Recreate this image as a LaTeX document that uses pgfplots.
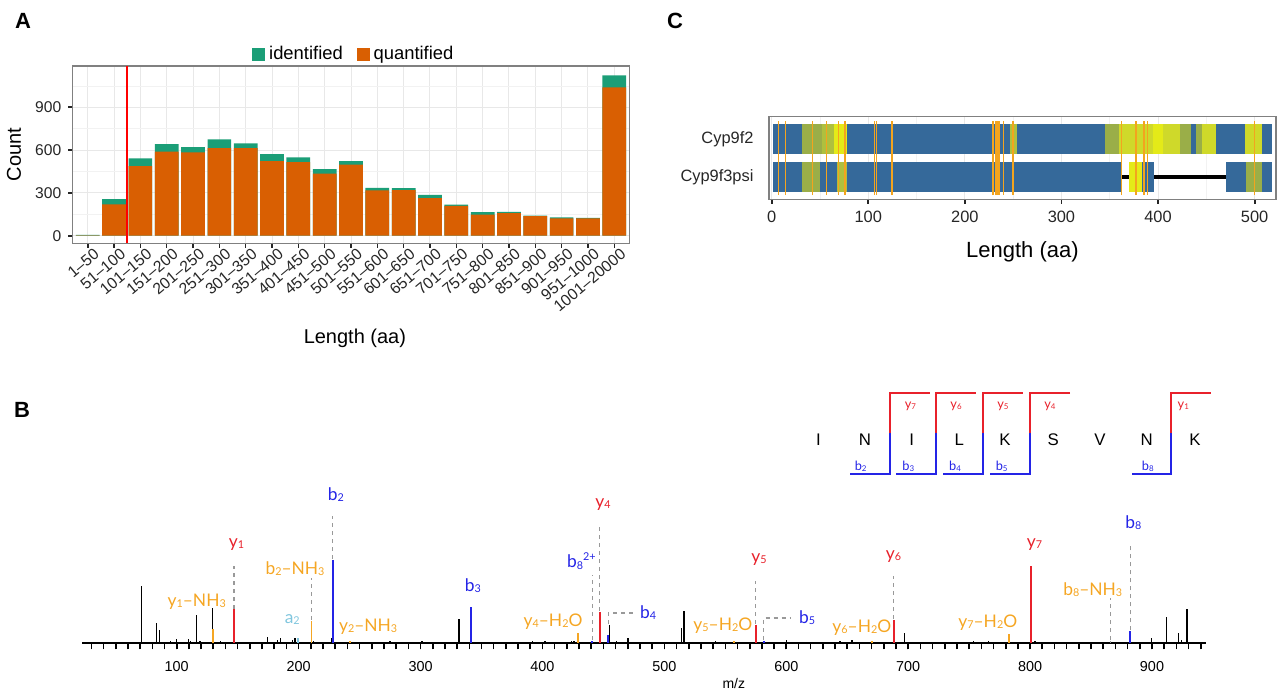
\documentclass[border=0pt]{standalone}
\usepackage{fontspec}
\setmainfont{Liberation Sans}
\newfontfamily\lato{Lato}
\usepackage{pgfplots}
\usepackage{pgfplotstable}
\pgfplotsset{compat=1.18}
\definecolor{qorange}{HTML}{D95F02}
\definecolor{igreen}{HTML}{1B9E77}
\definecolor{cblue}{HTML}{35699A}
\definecolor{colive}{HTML}{9AAE48}
\definecolor{colive2}{HTML}{AFC03E}
\definecolor{cyg}{HTML}{CFD92A}
\definecolor{cyel}{HTML}{E4EA18}
\definecolor{corange}{HTML}{F3A41E}
\definecolor{pred}{HTML}{E8212B}
\definecolor{pblue}{HTML}{2424E6}
\definecolor{porange}{HTML}{F5A623}
\definecolor{plblue}{HTML}{80C6DE}
\newcommand\s[1]{\raisebox{-0.12ex}{\scalebox{0.62}{#1}}}
\newcommand\lbl{\lato\fontsize{8.7}{9}\selectfont}
\newcommand\sq{\lato\fontsize{6.4}{7}\selectfont}
\newcommand\R[5]{\addplot[fill=#5, draw=none, forget plot] coordinates {(#1,#3) (#2,#3) (#2,#4) (#1,#4)} -- cycle;}

\pgfplotstableread{
x q t
0 3 6
1 220 257
2 488 542
3 589 642
4 584 621
5 614 675
6 614 647
7 523 572
8 516 549
9 435 467
10 498 523
11 318 336
12 320 334
13 264 287
14 209 218
15 148 165
16 158 167
17 137 141
18 121 128
19 122 125
20 1039 1123
}\dataA

\begin{document}
\begin{tikzpicture}
\path[use as bounding box] (0,0) rectangle (640pt,345pt);

% Panel letters
\node[font=\bfseries\fontsize{11}{12}\selectfont] at (11.5pt,334.5pt) {A};
\node[font=\bfseries\fontsize{11}{12}\selectfont] at (11pt,140pt) {B};
\node[font=\bfseries\fontsize{11}{12}\selectfont] at (337.5pt,334.5pt) {C};

% ---------------- Panel A ----------------
\begin{axis}[
  at={(36.35pt,223.35pt)}, anchor=south west, scale only axis,
  width=278.3pt, height=88.65pt,
  xmin=-0.57, xmax=20.57, ymin=-53, ymax=1189,
  xtick={0,...,20},
  xticklabels={1–50,51–100,101–150,151–200,201–250,251–300,301–350,351–400,401–450,451–500,501–550,551–600,601–650,651–700,701–750,751–800,801–850,851–900,901–950,951–1000,1001–20000},
  ytick={0,300,600,900}, minor ytick={150,450,750,1050},
  tick pos=left,
  grid=both,
  major grid style={black!9, line width=0.5pt},
  minor grid style={black!5, line width=0.3pt},
  axis line style={black!50, line width=0.7pt},
  tick style={black!85, line width=0.8pt},
  tick align=outside, major tick length=2.2pt, minor tick length=0pt,
  xticklabel style={rotate=40, anchor=north east, inner sep=1pt, xshift=3.2pt, yshift=-0.6pt, font=\fontsize{7.9}{8}\selectfont, text=black!85},
  yticklabel style={font=\fontsize{7.8}{8}\selectfont, text=black!85},
  /pgf/number format/assume math mode=true,
  xlabel={Length (aa)}, ylabel={Count},
  xlabel style={at={(axis description cs:0.507,-0.536)}, anchor=center, font=\fontsize{10}{12}\selectfont},
  ylabel style={at={(axis description cs:-0.1055,0.5)}, anchor=center, rotate=0, font=\fontsize{10}{12}\selectfont},
  legend columns=2,
  legend style={draw=none, fill=none, at={(0.507,1)}, anchor=center, yshift=5.9pt,
    font=\fontsize{9.2}{10}\selectfont, /tikz/every even column/.append style={column sep=5pt}},
  legend image code/.code={\fill[#1] (0pt,-3.2pt) rectangle (6.4pt,3.2pt);},
]
\addplot[ybar, bar width=0.9, fill=igreen, draw=none] table[x=x, y=t] {\dataA};
\addlegendentry{identified}
\addplot[ybar, bar width=0.9, fill=qorange, draw=none] table[x=x, y=q] {\dataA};
\addlegendentry{quantified}
\addplot[red, line width=1pt, forget plot] coordinates {(1.5,-53) (1.5,1189)};
\end{axis}

% ---------------- Panel C ----------------
\begin{axis}[
  at={(384.45pt,245.2pt)}, anchor=south west, scale only axis,
  width=253.5pt, height=41.45pt,
  xmin=-2.8, xmax=522, ymin=-0.6, ymax=1.6,
  xtick={0,100,...,500}, minor xtick={50,150,...,450},
  ytick={0,1}, yticklabels={Cyp9f3psi,Cyp9f2},
  tick pos=left,
  xmajorgrids, xminorgrids,
  major grid style={black!9, line width=0.5pt},
  minor grid style={black!5, line width=0.3pt},
  axis line style={black!50, line width=0.7pt},
  tick style={black!85, line width=0.9pt},
  tick align=outside, major tick length=2.2pt, minor tick length=0pt,
  ytick style={draw=none},
  xticklabel style={font=\fontsize{8.2}{9}\selectfont, text=black!85},
  yticklabel style={font=\fontsize{8.2}{9}\selectfont, text=black!85, xshift=-2pt},
  /pgf/number format/assume math mode=true,
  xlabel={Length (aa)},
  xlabel style={at={(axis description cs:0.5,-0.628)}, anchor=center, font=\fontsize{11}{13}\selectfont},
  unbounded coords=jump,
]
\addplot[black, line width=2pt, forget plot] coordinates {(358,0) (472,0)};
% Cyp9f2
\R{1}{518}{0.6}{1.4}{cblue}
\R{31}{52}{0.6}{1.4}{colive}
\R{52}{65}{0.6}{1.4}{colive2}
\R{65}{78}{0.6}{1.4}{cyel}
\R{247}{254}{0.6}{1.4}{colive2}
\R{345}{360}{0.6}{1.4}{colive}
\R{360}{395}{0.6}{1.4}{cyg}
\R{395}{405}{0.6}{1.4}{cyel}
\R{405}{423}{0.6}{1.4}{cyg}
\R{423}{434}{0.6}{1.4}{colive}
\R{439}{445}{0.6}{1.4}{colive}
\R{445}{460}{0.6}{1.4}{cyg}
\R{490}{508}{0.6}{1.4}{cyg}
% Cyp9f3psi
\R{1}{362}{-0.4}{0.4}{cblue}
\R{31}{50}{-0.4}{0.4}{colive}
\R{68}{78}{-0.4}{0.4}{colive2}
\R{370}{396}{-0.4}{0.4}{cblue}
\R{370}{383}{-0.4}{0.4}{cyel}
\R{470}{518}{-0.4}{0.4}{cblue}
\R{491}{508}{-0.4}{0.4}{colive}
\addplot[corange, line width=0.65pt, forget plot] coordinates {
(7.1,-0.48) (7.1,1.48) (7.1,nan)
(14.2,-0.48) (14.2,1.48) (14.2,nan)
(42.3,-0.48) (42.3,1.48) (42.3,nan)
(56.5,-0.48) (56.5,1.48) (56.5,nan)
(69.2,-0.48) (69.2,1.48) (69.2,nan)
(75.9,-0.48) (75.9,1.48) (75.9,nan)
(106.7,-0.48) (106.7,1.48) (106.7,nan)
(108.7,-0.48) (108.7,1.48) (108.7,nan)
(124.5,-0.48) (124.5,1.48) (124.5,nan)
(229.2,-0.48) (229.2,1.48) (229.2,nan)
(232.4,-0.48) (232.4,1.48) (232.4,nan)
(234.4,-0.48) (234.4,1.48) (234.4,nan)
(235.6,-0.48) (235.6,1.48) (235.6,nan)
(240.3,-0.48) (240.3,1.48) (240.3,nan)
(249.8,-0.48) (249.8,1.48) (249.8,nan)
(362.5,-0.48) (362.5,1.48) (362.5,nan)
(377.1,-0.48) (377.1,1.48) (377.1,nan)
(385.4,-0.48) (385.4,1.48) (385.4,nan)
(389.3,-0.48) (389.3,1.48) (389.3,nan)
(500,-0.48) (500,1.48)
};
\end{axis}

% ---------------- Panel B ----------------
\begin{axis}[
  at={(41pt,23.5pt)}, anchor=south west, scale only axis,
  width=562pt, height=130pt,
  xmin=22.3, xmax=944.3, ymin=0, ymax=260,
  axis y line=none, axis x line*=bottom,
  xtick={100,200,...,900}, minor xtick={30,40,...,940},
  tick align=outside, major tick length=3.2pt, minor tick length=3.2pt,
  tick style={black, line width=0.8pt},
  axis line style={black, line width=0.7pt},
  xticklabel style={font=\fontsize{7.2}{8}\selectfont, yshift=-2.5pt},
  /pgf/number format/assume math mode=true,
  clip=false, unbounded coords=jump,
]
% black peaks
\addplot[ycomb, black, line width=0.75pt, mark=none] coordinates {
(71.3,57) (83.6,20) (86,13) (95,2) (100,4) (109.5,4) (111.4,2) (116.2,28) (119,2) (129.2,35) (136,2)
(174.3,6) (182.5,3) (185,5) (194.8,3) (197,5) (212.3,2) (227,5) (275,2) (301,2)
(331.5,24) (392,2) (402,2) (424,2) (426,2) (455,18) (460.6,2) (470,5) (514,15) (516,32)
(542,2) (600,3) (644,2) (654,3) (697,10) (753.5,2) (766,2) (804,2) (899.6,5) (912,26) (921.6,10) (924,3) (928.6,34)};
% orange peaks
\addplot[ycomb, porange, line width=0.9pt, mark=none] coordinates {
(129.5,14) (210.5,22) (242,2) (429,10) (557,2) (670,2) (783,9)};
% gray
\addplot[ycomb, black!40, line width=0.9pt, mark=none] coordinates {(866,2)};
% light blue
\addplot[ycomb, plblue, line width=0.9pt, mark=none] coordinates {(199.5,5)};
% red peaks
\addplot[ycomb, pred, line width=1pt, mark=none] coordinates {
(147,33.5) (447,31) (575,18) (688,23) (801,76.7)};
% blue peaks
\addplot[ycomb, pblue, line width=1pt, mark=none] coordinates {
(228,83) (341,36) (454,8) (581.5,2) (882,11.7) (441,2)};
% dashed guides
\addplot[black!40, dashed, dash pattern=on 2pt off 2pt, line width=0.55pt] coordinates {
(147,34) (147,77) (147,nan)
(210.5,23) (210.5,65) (210.5,nan)
(228,84) (228,127) (228,nan)
(441,3) (441,68) (441,nan)
(447,32) (447,117) (447,nan)
(454,19) (454,30) (474,30) (474,nan)
(581.5,3) (581.5,25) (603,25) (603,nan)
(575,19) (575,62) (575,nan)
(688,24) (688,67) (688,nan)
(866,3) (866,45) (866,nan)
(882,12.5) (882,98)
};
% peak labels
\node[text=pred, font=\lbl] at (axis cs:149,98.3) {y\s{1}};
\node[text=porange, font=\lbl] at (axis cs:116.4,41.7) {y\s{1}–NH\s{3}};
\node[text=porange, font=\lbl] at (axis cs:197,74) {b\s{2}–NH\s{3}};
\node[text=plblue, font=\lbl] at (axis cs:194.8,23.3) {a\s{2}};
\node[text=pblue, font=\lbl] at (axis cs:230.6,148.3) {b\s{2}};
\node[text=porange, font=\lbl] at (axis cs:257,16.7) {y\s{2}–NH\s{3}};
\node[text=pblue, font=\lbl] at (axis cs:343,57.3) {b\s{3}};
\node[text=porange, font=\lbl] at (axis cs:408.7,21.7) {y\s{4}–H\s{2}O};
\node[text=pblue, font=\lbl] at (axis cs:432,82.3) {b\s{8}\raisebox{0.9ex}{\scalebox{0.62}{2+}}};
\node[text=pred, font=\lbl] at (axis cs:449.7,138.3) {y\s{4}};
\node[text=pblue, font=\lbl] at (axis cs:486.6,30) {b\s{4}};
\node[text=porange, font=\lbl] at (axis cs:548,17.7) {y\s{5}–H\s{2}O};
\node[text=pred, font=\lbl] at (axis cs:577.6,83.3) {y\s{5}};
\node[text=pblue, font=\lbl] at (axis cs:617.2,25.7) {b\s{5}};
\node[text=porange, font=\lbl] at (axis cs:662,15) {y\s{6}–H\s{2}O};
\node[text=pred, font=\lbl] at (axis cs:688,86.7) {y\s{6}};
\node[text=porange, font=\lbl] at (axis cs:765.3,20) {y\s{7}–H\s{2}O};
\node[text=pred, font=\lbl] at (axis cs:803.6,98.3) {y\s{7}};
\node[text=porange, font=\lbl] at (axis cs:851.4,53.3) {b\s{8}–NH\s{3}};
\node[text=pblue, font=\lbl] at (axis cs:884.7,120) {b\s{8}};
\node[font=\fontsize{7}{8}\selectfont] at (axis cs:557,-40) {m/z};
% sequence fragment map
\addplot[pred, line width=1pt] coordinates {(717.7,249.7) (684.9,249.7) (684.9,209.7)};
\addplot[pblue, line width=1pt] coordinates {(684.9,209.7) (684.9,168.7) (652,168.7)};
\addplot[pred, line width=1pt] coordinates {(755.6,249.7) (722.8,249.7) (722.8,209.7)};
\addplot[pblue, line width=1pt] coordinates {(722.8,209.7) (722.8,168.7) (690,168.7)};
\addplot[pred, line width=1pt] coordinates {(793.9,249.7) (761.1,249.7) (761.1,209.7)};
\addplot[pblue, line width=1pt] coordinates {(761.1,209.7) (761.1,168.7) (728.8,168.7)};
\addplot[pred, line width=1pt] coordinates {(832.8,249.7) (800,249.7) (800,209.7)};
\addplot[pblue, line width=1pt] coordinates {(800,209.7) (800,168.7) (767.1,168.7)};
\addplot[pred, line width=1pt] coordinates {(948.2,249.7) (915.4,249.7) (915.4,209.7)};
\addplot[pblue, line width=1pt] coordinates {(915.4,209.7) (915.4,168.7) (883.3,168.7)};
\foreach \xx/\ll in {626.3/I,664.6/N,702.9/I,741.9/L,779.4/K,819/S,857.3/V,895.6/N,935.3/K}{
  \edef\tmp{\noexpand\node[font=\noexpand\fontsize{8.4}{9}\noexpand\selectfont] at (axis cs:\xx,203.7) {\ll};}\tmp
}
\node[text=pred, font=\sq] at (axis cs:701.8,236.3) {y\s{7}};
\node[text=pred, font=\sq] at (axis cs:739.3,236.3) {y\s{6}};
\node[text=pred, font=\sq] at (axis cs:777.7,236.3) {y\s{5}};
\node[text=pred, font=\sq] at (axis cs:816.3,236.3) {y\s{4}};
\node[text=pred, font=\sq] at (axis cs:925.7,236.3) {y\s{1}};
\node[text=pblue, font=\sq] at (axis cs:661,177) {b\s{2}};
\node[text=pblue, font=\sq] at (axis cs:700.1,177) {b\s{3}};
\node[text=pblue, font=\sq] at (axis cs:738.4,177) {b\s{4}};
\node[text=pblue, font=\sq] at (axis cs:776.7,177) {b\s{5}};
\node[text=pblue, font=\sq] at (axis cs:896.5,177) {b\s{8}};
\end{axis}
\end{tikzpicture}
\end{document}
